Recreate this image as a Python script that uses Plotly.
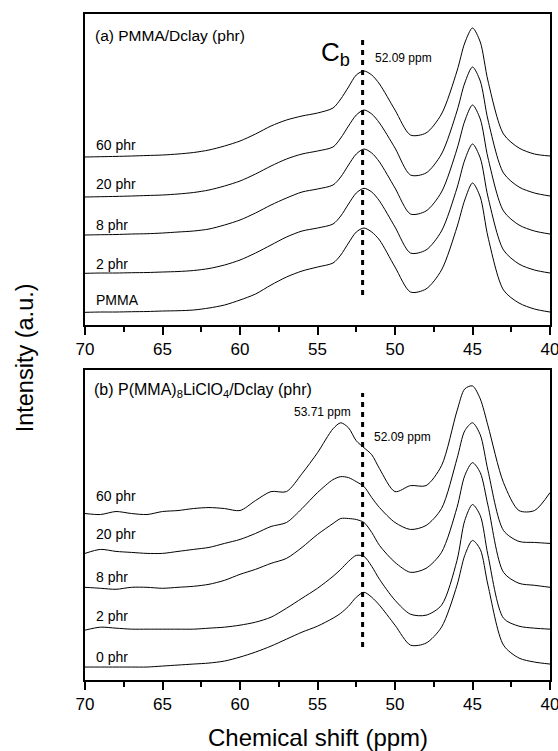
import plotly.graph_objs as go

# chemical shift grid (ppm)
ppm = [70, 69, 68, 67, 66, 65, 64, 63, 62, 61, 60, 59, 58, 57, 56, 55, 54, 53.5,
       53, 52.5, 52, 51.5, 51, 50, 49, 48, 47, 46, 45.5, 45, 44.5, 44, 43, 42, 41, 40]

# (a) PMMA/Dclay, stacked intensities (a.u.)
a_labels = ['PMMA', '2 phr', '8 phr', '20 phr', '60 phr']
a_pmma = [12.7, 13, 13, 13.3, 13.5, 14, 14.3, 15, 17, 20, 25, 31, 40, 48, 54, 58, 62, 70,
          82, 93, 97, 93, 85, 58, 33, 36, 55, 98, 125, 142, 128, 88, 35, 22, 16, 13]
a_2 = [51.7, 52, 52, 52.3, 52.5, 53, 53.5, 54.5, 56.5, 60, 65, 72, 80, 88, 94, 97, 101, 109,
       121, 132, 136.7, 133, 124, 98, 72, 75, 94, 137, 165, 181, 167, 128, 75, 61, 55, 52]
a_8 = [90, 90.3, 90.5, 91, 91.3, 92, 93, 94, 96, 100, 105, 112, 120, 127, 133, 136, 140, 148,
       160, 171, 176, 172, 163, 137, 111, 114, 133, 176, 204, 220, 206, 167, 114, 100, 94, 91]
a_20 = [128, 128.3, 128.6, 129, 129.5, 130, 131, 132.5, 135, 139, 144, 151, 159, 166, 171, 174,
        178, 187, 199, 210, 215, 211, 202, 177, 150, 152, 171, 214, 242, 258, 244, 205, 152,
        138, 132, 129]
a_60 = [168, 168.3, 168.6, 169, 169.5, 170, 171, 172.5, 175, 179, 184, 191, 199, 205, 209, 212,
        217, 226, 238, 250, 254, 250, 241, 215, 190, 192, 211, 254, 282, 297, 283, 244, 191,
        177, 171, 169]

# (b) P(MMA)8LiClO4/Dclay, stacked intensities (a.u.)
b_labels = ['0 phr', '2 phr', '8 phr', '20 phr', '60 phr']
b_0 = [13, 13, 13, 13, 13, 14, 15, 16, 17, 19, 23, 28, 34, 41, 48, 54, 62, 67,
       74, 83, 88, 83, 75, 55, 35, 37, 53, 95, 125, 140, 131, 95, 35, 22, 18, 16]
b_2 = [50, 53, 52, 51, 51, 51, 51, 51, 52, 53, 55, 58, 63, 72, 82, 92, 104, 111,
       119, 125, 124, 114, 101, 80, 66, 65, 75, 120, 160, 176, 165, 125, 62, 54, 52, 51]
b_8 = [93, 92, 91, 93, 93, 92, 93, 94, 96, 100, 106, 111, 117, 122, 133, 146, 157, 162,
       162, 161, 158, 148, 135, 118, 108, 112, 128, 173, 205, 218, 208, 175, 108, 97, 95, 93]
b_20 = [127, 131, 129, 128, 127, 127, 129, 131, 133, 137, 141, 147, 154, 158, 172, 188, 201,
        204, 203, 199, 194, 183, 173, 158, 151, 155, 172, 222, 250, 258, 246, 210, 150, 139,
        138, 137]
b_60 = [167, 166, 169, 167, 166, 169, 170, 172, 173, 172, 170, 180, 189, 189, 207, 228, 252,
        258, 253, 240, 233, 226, 212, 189, 195, 195, 215, 270, 292, 295, 282, 255, 198, 170,
        170, 188]

FONT = 'Arial, Liberation Sans, sans-serif'
data = []
for ys in [a_pmma, a_2, a_8, a_20, a_60]:
    data.append(go.Scatter(x=ppm, y=ys, mode='lines', xaxis='x', yaxis='y',
                           line={'color': 'black', 'width': 1, 'shape': 'spline', 'smoothing': 0.8},
                           showlegend=False))
for ys in [b_0, b_2, b_8, b_20, b_60]:
    data.append(go.Scatter(x=ppm, y=ys, mode='lines', xaxis='x2', yaxis='y2',
                           line={'color': 'black', 'width': 1, 'shape': 'spline', 'smoothing': 0.8},
                           showlegend=False))

xax = dict(range=[70, 40], tickvals=[70, 65, 60, 55, 50, 45, 40], ticks='outside', ticklen=8,
           tickwidth=1.5, tickcolor='black', showline=True, linecolor='black', linewidth=1.5,
           mirror=True, showgrid=False, zeroline=False, automargin=False,
           ticklabeloverflow='allow',
           tickfont={'family': FONT, 'size': 17, 'color': 'black'},
           minor={'dtick': 2.5, 'ticks': 'outside', 'ticklen': 5, 'tickcolor': 'black', 'showgrid': False})
yax = dict(range=[0, 311], showticklabels=False, ticks='', showline=True, linecolor='black',
           linewidth=1.5, mirror=True, showgrid=False, zeroline=False, automargin=False)

annotations = []
# curve labels
for txt, yv in zip(a_labels, [25, 61, 100, 141, 180]):
    annotations.append(dict(x=69.4, y=yv, xref='x', yref='y', text=txt, showarrow=False,
                            xanchor='left', font={'family': FONT, 'size': 14, 'color': 'black'}))
for txt, yv in zip(b_labels, [23, 64, 103, 146, 185]):
    annotations.append(dict(x=69.45, y=yv, xref='x2', yref='y2', text=txt, showarrow=False,
                            xanchor='left', font={'family': FONT, 'size': 14, 'color': 'black'}))

annotations += [
    dict(x=69.5, y=290, xref='x', yref='y', text='(a) PMMA/Dclay (phr)', showarrow=False,
         xanchor='left', font={'family': FONT, 'size': 15.5, 'color': 'black'}),
    dict(x=52.75, y=272, xref='x', yref='y', text='C<sub>b</sub>', showarrow=False,
         xanchor='right', font={'family': FONT, 'size': 26, 'color': 'black'}),
    dict(x=51.45, y=267, xref='x', yref='y', text='52.09 ppm', showarrow=False,
         xanchor='left', font={'family': FONT, 'size': 12, 'color': 'black'}),
    dict(x=69.55, y=290, xref='x2', yref='y2',
         text='(b) P(MMA)<sub>8</sub>LiClO<sub>4</sub>/Dclay (phr)', showarrow=False,
         xanchor='left', font={'family': FONT, 'size': 16, 'color': 'black'}),
    dict(x=54.65, y=269, xref='x2', yref='y2', text='53.71 ppm', showarrow=False,
         xanchor='center', font={'family': FONT, 'size': 12, 'color': 'black'}),
    dict(x=51.5, y=244, xref='x2', yref='y2', text='52.09 ppm', showarrow=False,
         xanchor='left', font={'family': FONT, 'size': 12, 'color': 'black'}),
    dict(x=0.5, y=-0.087, xref='paper', yref='paper', text='Chemical shift (ppm)',
         xanchor='center', yanchor='middle', showarrow=False,
         font={'family': FONT, 'size': 24, 'color': 'black'}),
    dict(x=-0.129, y=0.483, xref='paper', yref='paper', text='Intensity (a.u.)', textangle=-90,
         xanchor='center', yanchor='middle', showarrow=False,
         font={'family': FONT, 'size': 23.5, 'color': 'black'}),
]

shapes = [
    dict(type='line', xref='x', yref='y', x0=52.09, x1=52.09, y0=30, y1=285,
         line={'color': 'black', 'width': 3, 'dash': '5px,5px'}),
    dict(type='line', xref='x2', yref='y2', x0=52.09, x1=52.09, y0=33, y1=288,
         line={'color': 'black', 'width': 3, 'dash': '5px,5px'}),
]

layout = go.Layout(
    width=558, height=751, margin={'l': 85, 'r': 8, 't': 14, 'b': 71, 'autoexpand': False},
    paper_bgcolor='white', plot_bgcolor='white',
    xaxis=dict(xax, anchor='y'), yaxis=dict(yax, domain=[0.533, 1.0], anchor='x'),
    xaxis2=dict(xax, anchor='y2'), yaxis2=dict(yax, domain=[0.0, 0.4655], anchor='x2'),
    annotations=annotations, shapes=shapes,
)
fig = go.Figure(data=data, layout=layout)
# drop the default body margin so the 558x751 figure fills the window exactly
fig.write_html("out.html", config={'displayModeBar': False},
               post_script="document.body.style.margin='0';document.body.style.overflow='hidden';")
